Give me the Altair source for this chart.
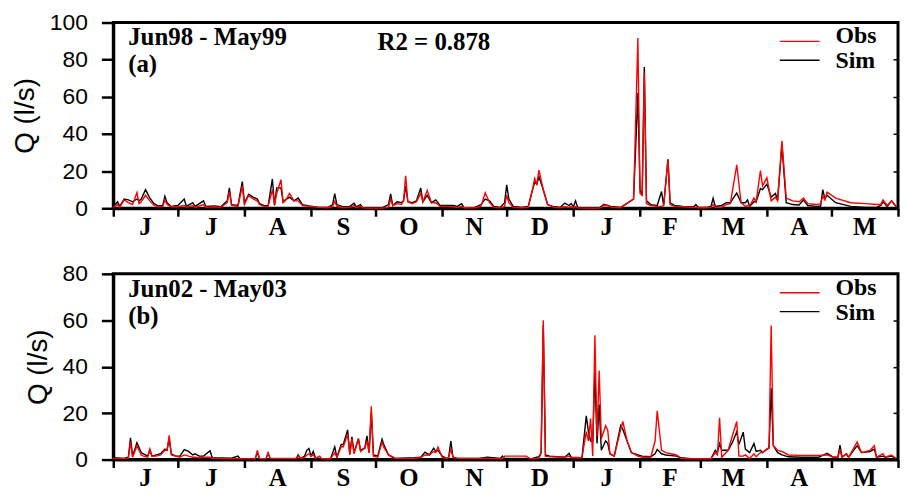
import altair as alt
import pandas as pd
import numpy as np

# ---------------- data ----------------
months = ["J", "J", "A", "S", "O", "N", "D", "J", "F", "M", "A", "M"]
month_days = [30, 31, 31, 30, 31, 30, 31, 31, 28, 31, 30, 31]

series_names = ["Obs", "Sim"]
series_colors = ["#ff0000", "#000000"]

# panel (a) Jun98 - May99 : day index from 1 June, observed / simulated Q (l/s)
a_day = [0, 2, 3, 5, 7, 9, 11, 12, 13, 15, 17, 19, 21, 23, 24, 25, 27, 30, 33, 34,
         37, 38, 42, 43, 47, 50, 53, 54, 55, 58, 60, 61, 63, 65, 67, 68, 70, 72, 74, 75,
         76, 78, 79, 80, 82, 84, 86, 88, 91, 95, 100, 102, 103, 104, 107, 110, 112, 113, 115, 116,
         119, 125, 128, 129, 130, 132, 134, 135, 136, 137, 139, 141, 143, 144, 146, 148, 150, 152, 155, 158,
         160, 162, 163, 168, 171, 173, 175, 177, 180, 182, 183, 184, 186, 190, 193, 195, 196, 197, 198, 200,
         202, 205, 208, 210, 212, 213, 214, 215, 216, 220, 226, 227, 228, 230, 232, 236, 242, 244, 245, 246,
         247, 248, 250, 253, 255, 256, 258, 259, 261, 265, 270, 271, 272, 276, 278, 279, 280, 283, 285, 287,
         290, 292, 294, 295, 296, 298, 299, 301, 302, 304, 306, 308, 309, 311, 313, 316, 319, 321, 323, 327,
         329, 330, 331, 332, 336, 343, 350, 355, 357, 358, 360, 362, 364]
a_obs = [0.5, 2.0, 0.5, 4.5, 3.0, 2.0, 8.4, 2.5, 3.5, 7.0, 4.0, 1.5, 0.8, 1.0, 4.5, 2.0, 0.8, 0.8, 1.5, 0.5,
         1.5, 0.5, 2.0, 0.5, 0.8, 0.5, 3.0, 9.0, 1.5, 1.0, 12.0, 2.0, 7.0, 5.0, 4.0, 2.0, 1.0, 1.0, 10.0, 2.0,
         8.0, 15.4, 3.0, 4.0, 8.0, 4.0, 4.0, 1.5, 1.0, 0.5, 0.3, 1.0, 3.8, 1.0, 0.3, 0.5, 1.5, 0.3, 1.2, 0.2,
         0.1, 0.1, 0.5, 5.0, 1.5, 2.5, 2.0, 4.0, 17.5, 3.5, 2.5, 3.5, 8.0, 3.5, 9.6, 3.0, 3.0, 1.0, 1.0, 0.8,
         0.5, 1.0, 0.3, 0.2, 1.0, 8.4, 3.0, 0.5, 0.2, 1.0, 7.0, 3.0, 0.5, 0.3, 0.5, 10.0, 16.0, 13.0, 20.5, 10.0,
         2.0, 0.5, 0.3, 0.8, 0.5, 0.8, 0.3, 1.0, 0.2, 0.1, 0.1, 0.5, 1.5, 1.5, 0.5, 0.3, 5.0, 91.7, 8.0, 7.0,
         73.0, 2.5, 1.5, 1.0, 1.0, 1.5, 26.4, 2.0, 1.0, 0.8, 0.5, 0.5, 0.3, 0.3, 0.5, 2.0, 0.5, 0.5, 2.0, 2.5,
         23.4, 3.0, 1.0, 1.5, 1.0, 5.5, 3.5, 20.3, 12.0, 16.5, 4.0, 6.0, 4.0, 36.3, 5.5, 4.0, 3.5, 5.5, 2.5, 2.0,
         2.5, 6.6, 4.5, 8.7, 5.5, 3.0, 2.5, 2.0, 2.0, 4.5, 1.5, 4.0, 1.0]
a_sim = [0.8, 3.5, 1.0, 5.0, 4.5, 3.5, 5.0, 4.0, 5.0, 10.0, 5.5, 2.5, 1.2, 1.5, 6.5, 3.0, 1.0, 1.5, 5.0, 1.0,
         3.0, 1.0, 4.0, 1.0, 1.2, 0.8, 4.0, 11.0, 2.0, 1.5, 14.4, 3.0, 7.5, 6.0, 5.0, 2.5, 1.5, 1.2, 15.8, 1.5,
         11.0, 11.0, 3.5, 4.5, 6.0, 4.0, 5.5, 2.0, 1.2, 0.6, 0.5, 2.0, 7.9, 2.0, 0.8, 1.0, 2.7, 0.8, 2.0, 0.3,
         0.2, 0.2, 2.0, 7.7, 1.5, 3.5, 3.0, 4.0, 12.0, 3.5, 3.0, 4.0, 10.9, 3.5, 7.0, 3.0, 4.5, 1.5, 1.5, 1.5,
         1.0, 2.5, 0.5, 0.3, 2.0, 5.0, 4.0, 1.0, 0.5, 3.0, 12.6, 5.0, 1.0, 0.5, 1.0, 10.0, 14.0, 13.0, 17.0, 10.0,
         2.0, 0.8, 0.5, 2.8, 1.5, 2.5, 0.8, 4.0, 0.5, 0.3, 0.2, 1.0, 2.0, 1.5, 0.8, 0.5, 5.0, 62.0, 10.0, 7.0,
         76.0, 4.0, 2.0, 1.5, 9.0, 1.5, 26.4, 3.0, 1.5, 1.0, 0.8, 2.0, 0.5, 0.5, 1.0, 5.4, 1.0, 1.5, 3.0, 3.0,
         8.3, 3.0, 3.0, 4.5, 1.0, 3.5, 3.5, 10.6, 10.0, 13.0, 6.0, 8.0, 4.5, 34.0, 3.0, 2.0, 1.8, 4.5, 1.5, 1.0,
         1.2, 10.0, 5.0, 7.0, 3.0, 1.0, 0.5, 0.5, 1.5, 3.5, 1.0, 4.0, 1.0]

# panel (b) Jun02 - May03
b_day = [0, 5, 7, 8, 9, 11, 13, 14, 16, 17, 18, 20, 22, 24, 25, 26, 27, 29, 31, 33,
         35, 37, 38, 40, 42, 45, 46, 50, 55, 58, 59, 66, 67, 68, 71, 72, 73, 80, 85, 86,
         87, 89, 90, 91, 92, 93, 94, 96, 97, 101, 103, 104, 106, 107, 109, 110, 111, 112, 114, 115,
         117, 118, 119, 120, 121, 123, 125, 126, 128, 131, 140, 143, 145, 147, 149, 150, 151, 153, 155, 156,
         157, 158, 160, 170, 174, 180, 181, 182, 192, 194, 198, 199, 200, 201, 203, 210, 212, 213, 218, 220,
         221, 222, 223, 224, 225, 226, 227, 229, 230, 231, 233, 236, 237, 239, 241, 244, 246, 250, 252, 253,
         255, 257, 262, 264, 270, 278, 280, 281, 282, 283, 286, 288, 290, 291, 293, 294, 296, 298, 299, 301,
         302, 304, 305, 306, 307, 309, 311, 314, 320, 328, 332, 335, 337, 338, 339, 341, 342, 346, 348, 352,
         354, 355, 358, 359, 362, 364]
b_obs = [0.5, 0.5, 0.5, 7.6, 1.0, 5.9, 2.0, 1.5, 1.0, 4.5, 1.5, 1.5, 2.0, 4.0, 4.0, 10.4, 2.0, 1.5, 1.0, 2.0,
         1.5, 1.0, 1.0, 0.8, 1.0, 1.0, 0.5, 0.5, 0.3, 0.5, 0.3, 0.3, 4.0, 0.5, 0.3, 2.8, 0.5, 0.5, 0.5, 1.5,
         0.5, 1.0, 2.0, 2.5, 1.5, 2.0, 0.5, 1.5, 0.3, 0.3, 3.0, 1.0, 5.5, 5.5, 11.0, 2.0, 8.8, 2.5, 9.0, 3.5,
         5.0, 8.0, 3.0, 23.0, 1.5, 1.0, 7.5, 5.0, 2.0, 0.5, 0.5, 1.0, 2.0, 2.0, 3.5, 3.0, 5.4, 1.0, 0.5, 1.0,
         4.5, 1.0, 0.5, 0.5, 0.5, 0.3, 0.5, 1.5, 1.5, 0.3, 0.5, 3.0, 60.0, 1.5, 1.2, 1.0, 1.5, 0.8, 0.8, 12.0,
         8.0, 17.7, 1.5, 53.5, 10.0, 38.4, 9.0, 14.6, 12.6, 2.5, 1.5, 13.0, 16.4, 8.0, 3.0, 1.5, 1.0, 1.0, 8.0, 21.0,
         4.0, 3.0, 2.0, 0.5, 0.3, 0.3, 3.0, 2.0, 18.0, 1.0, 4.0, 10.4, 16.4, 1.5, 1.5, 2.0, 0.5, 2.5, 1.2, 3.0,
         3.0, 4.5, 5.0, 57.7, 6.0, 4.0, 3.5, 2.0, 1.8, 1.8, 2.0, 1.0, 1.0, 4.0, 1.0, 2.5, 1.0, 7.6, 3.0, 4.0,
         6.0, 1.0, 2.5, 1.0, 2.0, 0.5]
b_sim = [0.8, 0.5, 1.0, 9.4, 1.5, 7.3, 3.0, 2.5, 1.5, 4.0, 1.5, 2.0, 2.5, 4.5, 4.0, 9.0, 2.5, 1.5, 1.5, 4.3,
         3.5, 2.0, 2.5, 1.5, 1.5, 3.8, 0.8, 0.7, 0.6, 1.5, 0.3, 0.3, 3.0, 0.5, 0.3, 2.8, 0.3, 0.3, 0.3, 2.0,
         0.5, 1.5, 4.0, 4.8, 1.5, 3.5, 0.8, 0.5, 0.3, 0.3, 5.5, 1.0, 6.5, 6.5, 12.8, 2.5, 9.8, 3.0, 9.0, 4.0,
         5.0, 10.2, 3.0, 20.5, 2.0, 1.5, 8.8, 6.0, 2.0, 0.5, 0.8, 1.0, 3.2, 2.0, 4.9, 3.5, 4.0, 1.5, 0.5, 1.0,
         8.0, 1.0, 0.5, 0.5, 1.0, 0.5, 1.5, 0.5, 0.5, 0.3, 1.3, 3.0, 58.0, 2.0, 1.5, 1.0, 2.7, 1.0, 0.8, 18.8,
         12.0, 8.0, 8.0, 37.5, 6.9, 23.7, 4.0, 8.0, 7.0, 2.5, 1.5, 14.6, 13.0, 8.0, 3.0, 2.0, 1.5, 1.2, 2.5, 4.4,
         2.5, 2.0, 1.5, 0.8, 0.3, 0.3, 4.0, 3.0, 6.9, 4.0, 4.0, 7.5, 12.0, 6.5, 11.8, 4.5, 3.0, 6.9, 3.5, 4.0,
         3.0, 4.5, 5.0, 30.7, 6.0, 3.0, 2.0, 1.2, 1.0, 1.0, 2.7, 1.0, 1.0, 6.2, 1.0, 2.5, 1.0, 6.0, 3.0, 3.5,
         4.5, 1.0, 1.5, 1.0, 1.5, 0.5]

panel_labels = ["Jun98 - May99", "Jun02 - May03"]
panel_tags = ["(a)", "(b)"]
panel_ymax = [100, 80]
r2_text = "R2 = 0.878"

# ---------------- layout ----------------
W, H = 790, 187
bounds = [0] + list(np.cumsum(month_days).astype(int))
mids = [(bounds[i] + bounds[i + 1]) / 2 for i in range(12)]

SERIF = "Liberation Serif"
SANS = "Liberation Sans"
FS = 25  # serif bold text size

x_scale = alt.Scale(domain=[0, 365], nice=False, zero=False)
x_axis = alt.Axis(values=bounds, labels=False, tickSize=8, tickWidth=2.5, tickColor="black",
                  domainWidth=3, domainColor="black", grid=False, title=None)


def serif_text(txt, x, y, size=FS):
    return alt.Chart(pd.DataFrame({"t": [txt]})).mark_text(
        font=SERIF, fontWeight="bold", fontSize=size, align="left", baseline="middle", color="black").encode(
        x=alt.value(x), y=alt.value(y), text="t:N")


def panel(days, obs, sim, ymax, label, tag, show_r2):
    df = pd.DataFrame({"day": days, "Obs": obs, "Sim": sim})
    yscale = alt.Scale(domain=[0, ymax], nice=False, zero=True)
    yvals = list(range(0, ymax + 1, 20))
    yleft = alt.Axis(orient="left", values=yvals, title="Q (l/s)", titleFont=SANS, titleFontSize=28,
                     titleFontWeight="normal", titleColor="black", titlePadding=10,
                     labelFont=SANS, labelFontSize=23, labelColor="black", labelPadding=14,
                     tickSize=12, tickWidth=2.5, tickColor="black", domainWidth=3, domainColor="black",
                     grid=False)
    yright = alt.Axis(orient="right", values=yvals[1:-1], offset=-5, tickSize=5, tickWidth=1.5,
                      tickColor="black", labels=False, domain=False, title=None, grid=False)
    x = alt.X("day:Q", scale=x_scale, axis=x_axis)

    sim_line = alt.Chart(df).mark_line(color=series_colors[1], strokeWidth=1.4).encode(
        x=x, y=alt.Y("Sim:Q", scale=yscale, axis=yleft))
    obs_line = alt.Chart(df).mark_line(color=series_colors[0], strokeWidth=1.4).encode(
        x=x, y=alt.Y("Obs:Q", scale=yscale, axis=yright))

    mdf = pd.DataFrame({"mid": mids, "m": months})
    month_text = alt.Chart(mdf).mark_text(font=SERIF, fontWeight="bold", fontSize=FS, baseline="middle",
                                          align="center", color="black").encode(
        x=alt.X("mid:Q", scale=x_scale, axis=x_axis), y=alt.value(H + 19), text="m:N")

    layers = [sim_line, obs_line, month_text, serif_text(label, 15, 15), serif_text(tag, 15, 42)]
    for i, (name, col) in enumerate(zip(series_names, series_colors)):
        layers.append(alt.Chart(pd.DataFrame({"s": [name]})).mark_rule(color=col, strokeWidth=1.4).encode(
            x=alt.value(W - 119), x2=alt.value(W - 79), y=alt.value(19 + i * 19)))
        layers.append(serif_text(name, W - 63, 14 + i * 25, 24))
    if show_r2:
        layers.append(serif_text(r2_text, 266, 20))
    return alt.layer(*layers).resolve_axis(y="independent").properties(width=W, height=H)


top = panel(a_day, a_obs, a_sim, panel_ymax[0], panel_labels[0], panel_tags[0], True)
bottom = panel(b_day, b_obs, b_sim, panel_ymax[1], panel_labels[1], panel_tags[1], False)

chart = alt.vconcat(top, bottom, spacing=19).properties(
    padding={"left": 2, "top": 0, "right": -1, "bottom": -3},
    background="white",
).configure_view(stroke="black", strokeWidth=3)

chart.save("out.html", embed_options={"renderer": "svg", "actions": False})
